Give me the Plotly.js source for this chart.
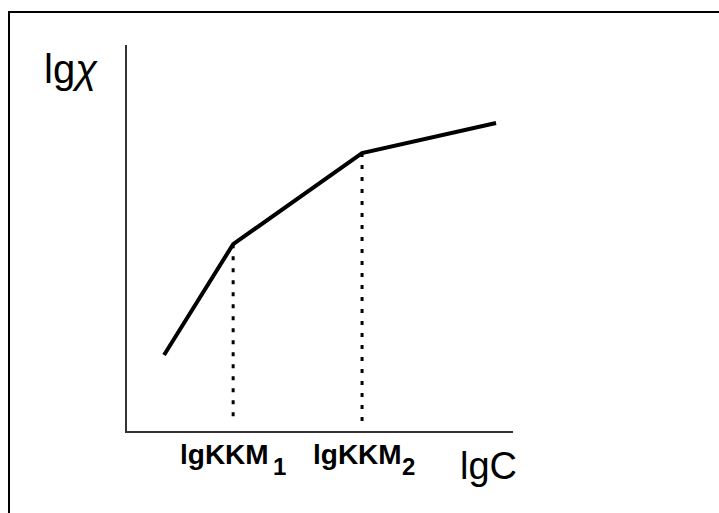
<!DOCTYPE html>
<html>
<head>
<meta charset="utf-8">
<script src="https://cdn.plot.ly/plotly-3.0.1.min.js"></script>
<style>html,body{margin:0;padding:0;background:#fff;}#chart{width:719px;height:513px;}</style>
</head>
<body>
<div id="chart"></div>
<script>
// Data (arbitrary units)
const lgC = [0.96, 2.75, 6.09, 9.56];
const lgChi = [1.97, 4.84, 7.20, 7.98];
const cmcX = [2.75, 6.09];
const cmcY = [4.84, 7.20];
const dropBottom = 0.23;
const cmcLabels = ['lgKKM', 'lgKKM'];
const cmcSubs = ['1', '2'];
const xTitle = 'lgC';
const yTitle = 'lg<i>\u03C7</i>';
const X_RANGE = [0, 10];
const Y_RANGE = [0, 10];

const traces = [{
  x: lgC, y: lgChi, mode: 'lines', type: 'scatter',
  line: {color: '#000', width: 4}, hoverinfo: 'skip', showlegend: false
}];
cmcX.forEach((cx, i) => {
  traces.push({
    x: [cx, cx], y: [cmcY[i], dropBottom], mode: 'lines', type: 'scatter',
    line: {color: '#000', width: 3, dash: '4px,8px'}, hoverinfo: 'skip', showlegend: false
  });
});

// convert data value to paper fraction (labels sit outside the plotting area)
const px = v => (v - X_RANGE[0]) / (X_RANGE[1] - X_RANGE[0]);
const py = v => (v - Y_RANGE[0]) / (Y_RANGE[1] - Y_RANGE[0]);

const FONT = 'Liberation Sans, Arial, sans-serif';
const labelShift = [-9, -5];  // px, horizontal nudge of main label
const subShift = [46, 46];    // px, horizontal position of subscript
const annotations = [];
cmcX.forEach((cx, i) => {
  annotations.push({
    x: px(cx), y: py(-0.62), xref: 'paper', yref: 'paper', showarrow: false,
    xanchor: 'center', yanchor: 'middle', xshift: labelShift[i],
    text: '<b>' + cmcLabels[i] + '</b>',
    font: {family: FONT, size: 28, color: '#000'}
  });
  annotations.push({
    x: px(cx), y: py(-0.93), xref: 'paper', yref: 'paper', showarrow: false,
    xanchor: 'center', yanchor: 'middle', xshift: subShift[i],
    text: '<b>' + cmcSubs[i] + '</b>',
    font: {family: FONT, size: 24, color: '#000'}
  });
});
annotations.push({
  x: px(9.37), y: py(-0.91), xref: 'paper', yref: 'paper', showarrow: false,
  xanchor: 'center', yanchor: 'middle', text: xTitle,
  font: {family: FONT, size: 38, color: '#000'}
});
annotations.push({
  x: px(-1.45), y: py(9.38), xref: 'paper', yref: 'paper', showarrow: false,
  xanchor: 'center', yanchor: 'middle', text: yTitle,
  font: {family: FONT, size: 40, color: '#000'}
});

const layout = {
  width: 719, height: 513,
  margin: {l: 127, r: 206, t: 45, b: 82, pad: 0},
  paper_bgcolor: '#fff', plot_bgcolor: '#fff',
  showlegend: false,
  xaxis: {range: X_RANGE, showline: true, linecolor: '#333', linewidth: 2,
          showgrid: false, zeroline: false, showticklabels: false, ticks: '', fixedrange: true},
  yaxis: {range: Y_RANGE, showline: true, linecolor: '#333', linewidth: 2,
          showgrid: false, zeroline: false, showticklabels: false, ticks: '', fixedrange: true},
  annotations: annotations,
  shapes: [{
    type: 'path', xref: 'paper', yref: 'paper',
    path: 'M 1.6,1.0855 L -0.3057,1.0855 L -0.3057,-0.3',
    line: {color: '#000', width: 2}
  }]
};

Plotly.newPlot('chart', traces, layout, {displayModeBar: false, staticPlot: true});
</script>
</body>
</html>
